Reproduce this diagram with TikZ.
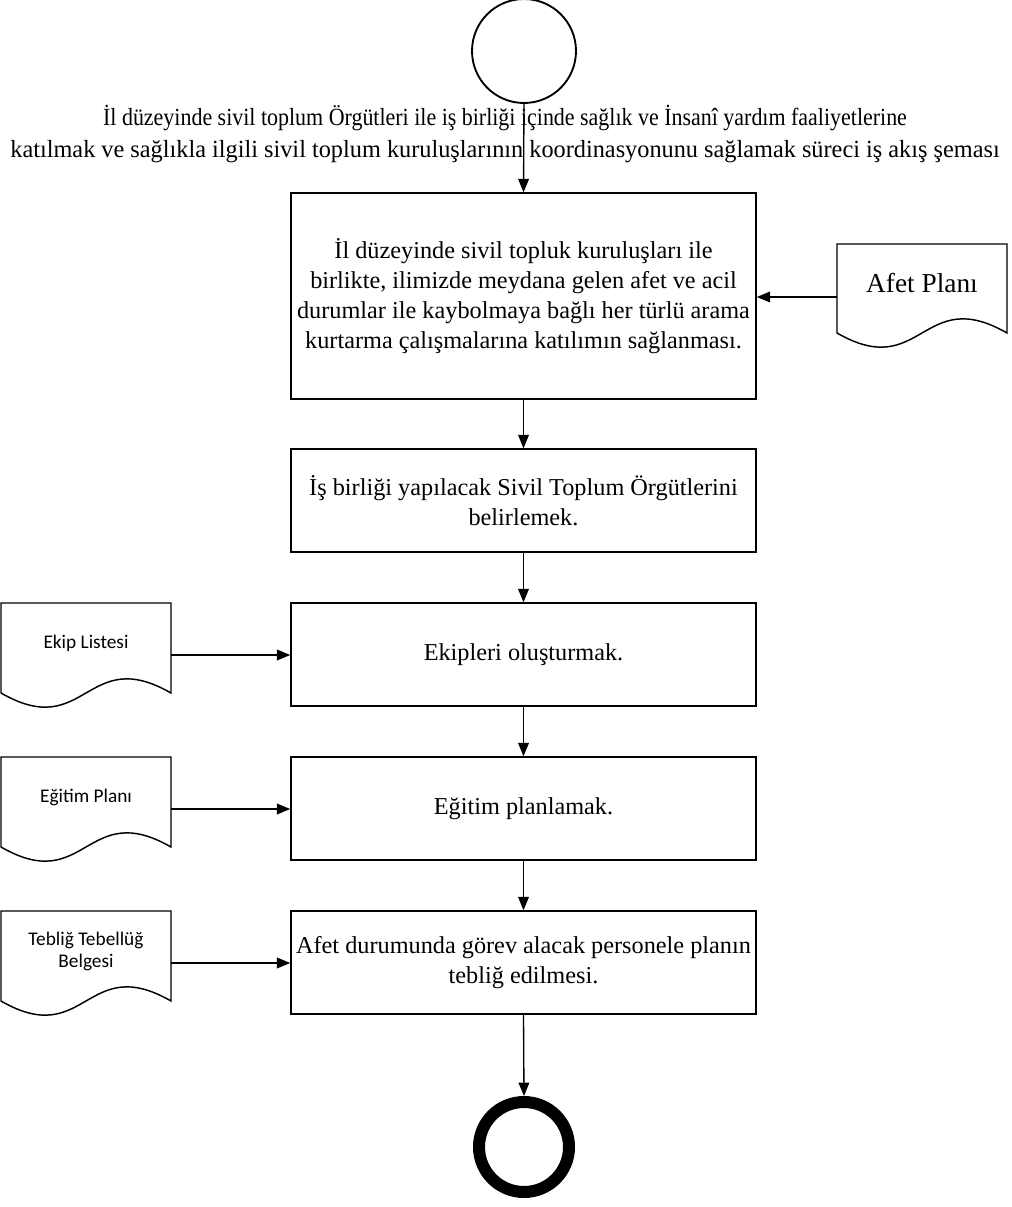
\documentclass[tikz,border=0pt]{standalone}
\usepackage{fontspec}
\usepackage{graphicx}
\setmainfont{Liberation Serif}
\newfontfamily\calfont{Carlito}
\usetikzlibrary{arrows.meta}
\begin{document}
\begin{tikzpicture}[x=0.75pt,y=-0.75pt,
  box/.style={draw, line width=1.1pt, minimum width=348.75pt, minimum height=77.25pt,
    align=center, font=\fontsize{18.2}{22.5}\selectfont, inner sep=0pt},
  arr/.style={-{Triangle[length=10pt,width=8pt]}, line width=1pt},
  docshape/.style={draw, line width=1.1pt, fill=white},
  doctext/.style={font=\calfont\fontsize{14.5}{16.5}\selectfont, align=center, inner sep=0pt},
  titletext/.style={font=\fontsize{18.5}{24}\selectfont, align=center, inner sep=0pt}]
\useasboundingbox (0,0) rectangle (1011,1207);

% start / end
\node[circle, draw, line width=1.4pt, minimum size=78pt, inner sep=0pt] (start) at (524,51) {};
\node[circle, draw, line width=9pt, minimum size=67.5pt, inner sep=0pt] (end) at (524,1147) {};

% title
\node[titletext] (title) at (505,134) {\scalebox{0.89}[1]{İl düzeyinde sivil toplum Örgütleri ile iş birliği içinde sağlık ve İnsanî yardım faaliyetlerine}\\\scalebox{0.985}[1]{katılmak ve sağlıkla ilgili sivil toplum kuruluşlarının koordinasyonunu sağlamak süreci iş akış şeması}};

% process boxes
\node[box, minimum height=154.5pt] (b1) at (523.5,296) {İl düzeyinde sivil topluk kuruluşları ile\\birlikte, ilimizde meydana gelen afet ve acil\\durumlar ile kaybolmaya bağlı her türlü arama\\kurtarma çalışmalarına katılımın sağlanması.};
\node[box] (b2) at (523.5,500.5) {İş birliği yapılacak Sivil Toplum Örgütlerini\\belirlemek.};
\node[box] (b3) at (523.5,654.5) {Ekipleri oluşturmak.};
\node[box] (b4) at (523.5,808.5) {Eğitim planlamak.};
\node[box] (b5) at (523.5,962.5) {Afet durumunda görev alacak personele planın\\tebliğ edilmesi.};

% documents
\draw[docshape] (837,244) -- (1007,244) -- (1007,333) .. controls (922,284) and (922,382) .. (837,333) -- cycle;
\node[font=\fontsize{20.5}{24}\selectfont, inner sep=0pt] (afet) at (922,283) {Afet Planı};
\coordinate (afetL) at (837,297);

\draw[docshape] (1,603) -- (171,603) -- (171,693) .. controls (86,644) and (86,742) .. (1,693) -- cycle;
\node[doctext] (ekip) at (86,643) {Ekip Listesi};
\coordinate (ekipR) at (171,655);

\draw[docshape] (1,757) -- (171,757) -- (171,847) .. controls (86,798) and (86,896) .. (1,847) -- cycle;
\node[doctext] (egitim) at (86,797) {Eğitim Planı};
\coordinate (egitimR) at (171,809);

\draw[docshape] (1,911) -- (171,911) -- (171,1001) .. controls (86,952) and (86,1050) .. (1,1001) -- cycle;
\node[doctext] (teblig) at (86,951) {Tebliğ Tebellüğ\\Belgesi};
\coordinate (tebligR) at (171,963);

% connectors
\draw[arr] (start.south) -- (b1.north);
\draw[arr] (b1.south) -- (b2.north);
\draw[arr] (b2.south) -- (b3.north);
\draw[arr] (b3.south) -- (b4.north);
\draw[arr] (b4.south) -- (b5.north);
\draw[arr] (b5.south) -- (end.north);
\draw[arr] (afetL) -- (afetL -| b1.east);
\draw[arr] (ekipR) -- (ekipR -| b3.west);
\draw[arr] (egitimR) -- (egitimR -| b4.west);
\draw[arr] (tebligR) -- (tebligR -| b5.west);
\end{tikzpicture}
\end{document}
